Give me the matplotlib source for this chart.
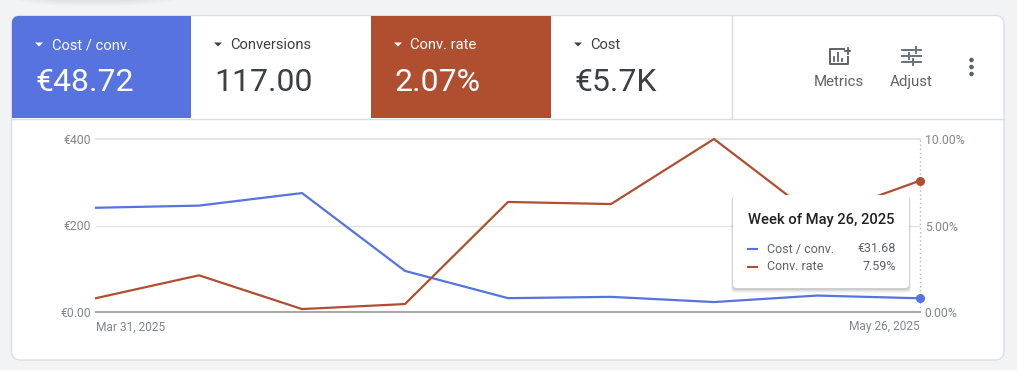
import matplotlib
matplotlib.use('Agg')
import matplotlib.pyplot as plt
from matplotlib.patches import FancyBboxPatch, Rectangle, Polygon, Ellipse, Circle

plt.rcParams['font.family'] = ['Roboto', 'DejaVu Sans']

weeks = ['Mar 31, 2025', 'Apr 7, 2025', 'Apr 14, 2025', 'Apr 21, 2025', 'Apr 28, 2025',
         'May 5, 2025', 'May 12, 2025', 'May 19, 2025', 'May 26, 2025']
cost_per_conv = [241, 246, 275, 95, 32, 35, 23, 38, 31.68]
conv_rate = [0.80, 2.12, 0.17, 0.46, 6.36, 6.24, 10.0, 5.45, 7.59]

tile_names = ['Cost / conv.', 'Conversions', 'Conv. rate', 'Cost']
tile_values = ['€48.72', '117.00', '2.07%', '€5.7K']
left_ticks = [0, 200, 400]
left_tick_labels = ['€0.00', '€200', '€400']
right_ticks = [0, 5, 10]
right_tick_labels = ['0.00%', '5.00%', '10.00%']

BLUE = '#5673e0'
RED = '#b04f2f'
GREY = '#5f6368'
W, H = 1017, 370

fig = plt.figure(figsize=(W / 100, H / 100), dpi=100, facecolor='#f1f3f4')

# page furniture goes on a pixel axes under the chart
bg = fig.add_axes([0, 0, 1, 1], zorder=0)
bg.set_xlim(0, W)
bg.set_ylim(H, 0)
bg.axis('off')
for i in range(6):
    bg.add_patch(Ellipse((95, -3), 170 - i * 12, 18 - i * 2, color='#d5d7da', alpha=0.12, lw=0))

card = FancyBboxPatch((11.5, 15.5), 992.5, 344.5, boxstyle='round,pad=0,rounding_size=9',
                      fc='white', ec='#dcdee0', lw=1)
bg.add_patch(card)

tile_x = [12, 191, 371, 551]
tile_w = [179, 180, 180, 180]
tile_bg = [BLUE, None, RED, None]
for x, w, c, name, value in zip(tile_x, tile_w, tile_bg, tile_names, tile_values):
    if c:
        r = Rectangle((x, 16), w, 102, fc=c, lw=0)
        bg.add_patch(r)
        r.set_clip_path(card)
    fg = 'white' if c else '#3c4043'
    tx = x + 24
    bg.add_patch(Polygon([(tx - 1, 42.5), (tx + 7, 42.5), (tx + 3, 46.5)], fc=fg, lw=0))
    bg.text(tx + 15.5, 45.3, name, color=fg, fontsize=10.6, va='center', ha='left')
    bg.text(tx - 0.5, 82.5, value, color=fg, fontsize=23, va='center', ha='left')

bg.plot([12, 1004], [118.5, 118.5], color='#dadce0', lw=1)
bg.plot([731.5, 731.5], [16, 118], color='#dadce0', lw=1)

# metrics icon
bg.plot([844, 830, 830, 848, 848], [48.5, 48.5, 64, 64, 57], color=GREY, lw=1.4, solid_joinstyle='round')
for bx, bar_top in zip([834, 838, 842], [57, 53, 59]):
    bg.plot([bx, bx], [bar_top, 61], color=GREY, lw=1.3)
bg.plot([845, 850], [51, 51], color=GREY, lw=1.3)
bg.plot([847.5, 847.5], [48, 54], color=GREY, lw=1.3)
bg.text(838.5, 82, 'Metrics', color=GREY, fontsize=10.8, ha='center', va='center')

# adjust icon
bg.plot([902, 914], [50, 50], color=GREY, lw=1.3)
bg.plot([918, 921], [50, 50], color=GREY, lw=1.3)
bg.plot([916, 916], [47, 53], color=GREY, lw=1.3)
bg.plot([902, 907], [56, 56], color=GREY, lw=1.3)
bg.plot([911, 921], [56, 56], color=GREY, lw=1.3)
bg.plot([909, 909], [53, 59], color=GREY, lw=1.3)
bg.plot([902, 911], [62, 62], color=GREY, lw=1.3)
bg.plot([915, 921], [62, 62], color=GREY, lw=1.3)
bg.plot([913, 913], [59, 65], color=GREY, lw=1.3)
bg.text(911, 82, 'Adjust', color=GREY, fontsize=10.8, ha='center', va='center')

for dy in [60, 67, 74]:
    bg.add_patch(Circle((971.5, dy), 2.3, fc=GREY, lw=0))

# chart
ax = fig.add_axes([96 / W, 1 - 312 / H, 824 / W, 173 / H], zorder=1)
ax.patch.set_alpha(0)
for s in ax.spines.values():
    s.set_visible(False)
ax.spines['bottom'].set_visible(True)
ax.spines['bottom'].set_color('#a6a8ab')
ax.spines['bottom'].set_linewidth(1.5)
ax.set_xlim(0, len(weeks) - 1)
ax.set_ylim(0, 400)
ax.set_yticks(left_ticks, left_tick_labels)
ax.set_xticks([0, len(weeks) - 1], [weeks[0], weeks[-1]])
ax.tick_params(axis='y', length=0, labelsize=8.8, labelcolor='#80868b', pad=3.5)
ax.tick_params(axis='x', length=0, labelsize=8.6, labelcolor='#80868b', pad=6)
xl = ax.get_xticklabels()
xl[0].set_ha('left')
xl[1].set_ha('right')
ax.axhline(200, color='#e3e4e6', lw=1, zorder=1)
ax.axhline(400, color='#e3e4e6', lw=1.4, zorder=1, clip_on=False)
ax.axvline(len(weeks) - 1, color='#b4b6b9', lw=1, ls=(0, (1, 2)), clip_on=False)
ax.plot(cost_per_conv, color=BLUE, lw=1.6, zorder=3, clip_on=False)
ax.plot(len(weeks) - 1, cost_per_conv[-1], 'o', color=BLUE, ms=5.5, zorder=4, clip_on=False)

ax2 = ax.twinx()
ax2.set_zorder(2)
ax2.patch.set_alpha(0)
for s in ax2.spines.values():
    s.set_visible(False)
ax2.set_ylim(0, 10)
ax2.set_yticks(right_ticks, right_tick_labels)
ax2.tick_params(axis='y', length=0, labelsize=8.8, labelcolor='#80868b', pad=3.5)
ax2.plot(conv_rate, color=RED, lw=1.6, zorder=3, clip_on=False)
ax2.plot(len(weeks) - 1, conv_rate[-1], 'o', color=RED, ms=5.5, zorder=4, clip_on=False)

# tooltip sits above the lines
top = fig.add_axes([0, 0, 1, 1], zorder=3)
top.set_xlim(0, W)
top.set_ylim(H, 0)
top.axis('off')
top.patch.set_alpha(0)
for i, a in zip([4, 3, 2, 1], [0.04, 0.06, 0.08, 0.10]):
    top.add_patch(FancyBboxPatch((733 - i * 0.5, 195 + 1), 176 + i, 93 + i, boxstyle='round,pad=0,rounding_size=4',
                                 fc='#3c4043', alpha=a, lw=0))
top.add_patch(FancyBboxPatch((733, 195), 176, 93, boxstyle='round,pad=0,rounding_size=4', fc='white', lw=0))
top.text(748, 220, 'Week of ' + weeks[-1], color='#202124', fontsize=10.6, fontweight='medium', va='center')
top.plot([747.5, 757], [249, 249], color=BLUE, lw=1.5)
top.plot([747.5, 757], [267, 267], color=RED, lw=1.5)
top.text(767, 249, tile_names[0], color=GREY, fontsize=9, va='center')
top.text(767, 267, tile_names[2], color=GREY, fontsize=9, va='center')
top.text(896, 249, f'€{cost_per_conv[-1]:.2f}', color=GREY, fontsize=9, va='center', ha='right')
top.text(896, 267, f'{conv_rate[-1]:.2f}%', color=GREY, fontsize=9, va='center', ha='right')

fig.savefig('out.png', dpi=100, facecolor=fig.get_facecolor())
